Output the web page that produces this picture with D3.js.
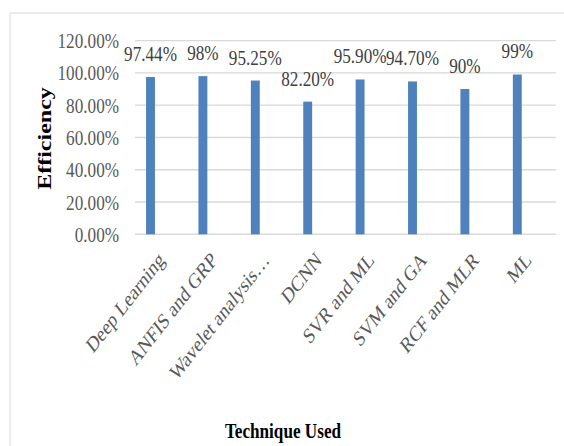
<!DOCTYPE html>
<html>
<head>
<meta charset="utf-8">
<script src="https://cdn.jsdelivr.net/npm/d3@7"></script>
<style>
  html, body { margin: 0; padding: 0; background: #fff; }
  svg { display: block; }
  text { font-family: "Liberation Serif", "Times New Roman", serif; }
</style>
</head>
<body>
<svg id="chart"></svg>
<script>
// ---- data ----
const categories = ["Deep Learning", "ANFIS and GRP", "Wavelet analysis…", "DCNN",
                    "SVR and ML", "SVM and GA", "RCF and MLR", "ML"];
const efficiency = [0.9744, 0.98, 0.9525, 0.822, 0.959, 0.947, 0.90, 0.99];
const valueLabels = ["97.44%", "98%", "95.25%", "82.20%", "95.90%", "94.70%", "90%", "99%"];
const yTicks = [0, 0.2, 0.4, 0.6, 0.8, 1.0, 1.2];

// ---- layout (real pixels; the drawing is horizontally condensed like the source) ----
const realW = 564, realH = 446, k = 0.78;
const W = realW / k;
const vx = x => x / k;

const svg = d3.select("#chart")
  .attr("width", realW).attr("height", realH)
  .attr("viewBox", `0 0 ${W} ${realH}`)
  .attr("preserveAspectRatio", "none");

// frame
svg.append("line").attr("x1", vx(10)).attr("x2", vx(10)).attr("y1", 13).attr("y2", realH)
  .attr("stroke", "#d9d9d9").attr("stroke-width", 1.2);
svg.append("line").attr("x1", vx(10)).attr("x2", W).attr("y1", 13).attr("y2", 13)
  .attr("stroke", "#d9d9d9").attr("stroke-width", 1.2);

const y = d3.scaleLinear().domain([0, 1.2]).range([234.3, 40.6]);
const x = d3.scaleBand().domain(categories).range([vx(124.3), vx(543.5)])
  .paddingInner(0.83).paddingOuter(0.415);

const gridX0 = vx(135), gridX1 = vx(556);

// gridlines
svg.append("g").selectAll("line").data(yTicks).join("line")
  .attr("x1", gridX0).attr("x2", gridX1)
  .attr("y1", d => y(d)).attr("y2", d => y(d))
  .attr("stroke", "#d9d9d9").attr("stroke-width", 1.4);

// y axis tick labels
const yAxis = d3.axisLeft(y).tickValues(yTicks)
  .tickFormat(d => (d * 100).toFixed(2) + "%").tickSize(0).tickPadding(0);
const gy = svg.append("g").attr("transform", `translate(${vx(119)},0)`).call(yAxis);
gy.select(".domain").remove();
gy.selectAll("text").attr("font-family", "Liberation Serif, serif")
  .attr("font-size", 22).attr("fill", "#595959");

// bars
svg.append("g").selectAll("rect").data(categories).join("rect")
  .attr("x", d => x(d)).attr("width", x.bandwidth())
  .attr("y", (d, i) => y(efficiency[i]))
  .attr("height", (d, i) => y(0) - y(efficiency[i]))
  .attr("fill", "#4f81bd");

// data labels
svg.append("g").selectAll("text").data(categories).join("text")
  .attr("x", d => x(d) + x.bandwidth() / 2)
  .attr("y", (d, i) => y(efficiency[i]) - 16)
  .attr("text-anchor", "middle")
  .attr("font-size", 22).attr("fill", "#404040")
  .text((d, i) => valueLabels[i]);

// x axis category labels (rotated)
const gx = svg.append("g").attr("transform", `translate(0,${y(0)})`)
  .call(d3.axisBottom(x).tickSize(0).tickPadding(0));
gx.select(".domain").remove();
gx.selectAll(".tick text")
  .attr("font-family", "Liberation Serif, serif")
  .attr("font-size", 22).attr("fill", "#595959")
  .attr("text-anchor", "end")
  .attr("dy", 0).attr("y", 0)
  .attr("transform", `translate(${vx(15)},27) rotate(-45)`);

// axis titles
svg.append("text")
  .attr("transform", `translate(${vx(51)},138.5) rotate(-90)`)
  .attr("text-anchor", "middle")
  .attr("font-size", 24).attr("font-weight", "bold").attr("fill", "#000")
  .text("Efficiency");

svg.append("text")
  .attr("x", vx(283)).attr("y", 438)
  .attr("text-anchor", "middle")
  .attr("font-size", 22).attr("font-weight", "bold").attr("fill", "#000")
  .text("Technique Used");
</script>
</body>
</html>
